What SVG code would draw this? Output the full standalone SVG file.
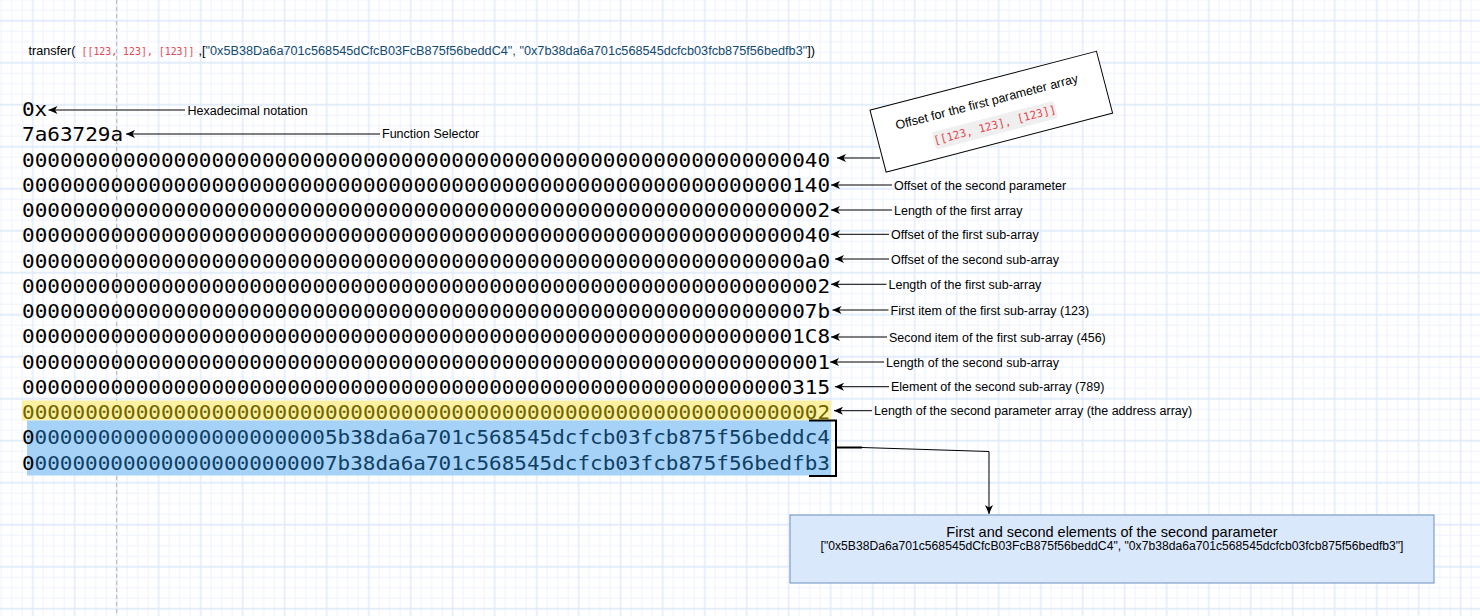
<svg xmlns="http://www.w3.org/2000/svg" width="1480" height="616" viewBox="0 0 1480 616">
<defs>
<pattern id="grid" x="31.7" y="19.7" width="42" height="42" patternUnits="userSpaceOnUse">
<path d="M11.5,0V42M22,0V42M32.5,0V42M0,11.5H42M0,22H42M0,32.5H42" stroke="#eef3fc" stroke-width="1" fill="none"/>
<path d="M1,0V42M0,1H42" stroke="#dce8fa" stroke-width="1.3" fill="none"/>
</pattern>
<marker id="arr" markerUnits="userSpaceOnUse" markerWidth="10" markerHeight="9" refX="9" refY="4.5" orient="auto">
<path d="M0,0.5 L9,4.5 L0,8.5 L2.5,4.5 Z" fill="#000"/>
</marker>
</defs>
<style>
.hex{font-family:"DejaVu Sans Mono","Liberation Mono",monospace;font-size:20px;fill:#000}
.lbl{font-family:"Liberation Sans",Arial,sans-serif;font-size:12.5px;fill:#000}
.code{font-family:"DejaVu Sans Mono","Liberation Mono",monospace;font-size:11px;fill:#e34850}
.navy{fill:#0f3f63}
.edge{stroke:#000;stroke-width:1;fill:none;marker-end:url(#arr)}
</style>
<rect width="1480" height="616" fill="#ffffff"/>
<rect width="1480" height="616" fill="url(#grid)"/>
<line x1="116.7" y1="0" x2="116.7" y2="616" stroke="#b5b5b5" stroke-width="1" stroke-dasharray="4 3"/>

<g id="title">
<text class="lbl" x="28.5" y="55" textLength="47" lengthAdjust="spacingAndGlyphs">transfer(</text>
<text class="code" x="81.5" y="55" style="font-size:9.9px">[[123, 123], [123]]</text>
<text class="lbl" x="198.5" y="55" textLength="616.5" lengthAdjust="spacingAndGlyphs">,[<tspan style="fill:#134a6e">"0x5B38Da6a701c568545dCfcB03FcB875f56beddC4", "0x7b38da6a701c568545dcfcb03fcb875f56bedfb3"</tspan>])</text>
</g>

<g id="highlights">
<rect x="22" y="400.5" width="809" height="20" fill="#fcf0a2"/>
<rect x="27" y="420.5" width="804" height="55" fill="#a6d2f8"/>
</g>

<g id="rows">
<text id="row0" class="hex" x="22" y="116" textLength="25.25" lengthAdjust="spacingAndGlyphs">0x</text>
<text id="row1" class="hex" x="22" y="141.25" textLength="101" lengthAdjust="spacingAndGlyphs">7a63729a</text>
<text id="row2" class="hex" x="22" y="166.5" textLength="808" lengthAdjust="spacingAndGlyphs">0000000000000000000000000000000000000000000000000000000000000040</text>
<text id="row3" class="hex" x="22" y="191.75" textLength="808" lengthAdjust="spacingAndGlyphs">0000000000000000000000000000000000000000000000000000000000000140</text>
<text id="row4" class="hex" x="22" y="217" textLength="808" lengthAdjust="spacingAndGlyphs">0000000000000000000000000000000000000000000000000000000000000002</text>
<text id="row5" class="hex" x="22" y="242.25" textLength="808" lengthAdjust="spacingAndGlyphs">0000000000000000000000000000000000000000000000000000000000000040</text>
<text id="row6" class="hex" x="22" y="267.5" textLength="808" lengthAdjust="spacingAndGlyphs">00000000000000000000000000000000000000000000000000000000000000a0</text>
<text id="row7" class="hex" x="22" y="292.75" textLength="808" lengthAdjust="spacingAndGlyphs">0000000000000000000000000000000000000000000000000000000000000002</text>
<text id="row8" class="hex" x="22" y="318" textLength="808" lengthAdjust="spacingAndGlyphs">000000000000000000000000000000000000000000000000000000000000007b</text>
<text id="row9" class="hex" x="22" y="343.25" textLength="808" lengthAdjust="spacingAndGlyphs">00000000000000000000000000000000000000000000000000000000000001C8</text>
<text id="row10" class="hex" x="22" y="368.5" textLength="808" lengthAdjust="spacingAndGlyphs">0000000000000000000000000000000000000000000000000000000000000001</text>
<text id="row11" class="hex" x="22" y="393.75" textLength="808" lengthAdjust="spacingAndGlyphs">0000000000000000000000000000000000000000000000000000000000000315</text>
<text id="row12" class="hex" x="22" y="419" textLength="808" lengthAdjust="spacingAndGlyphs" style="fill:#6e6500">0000000000000000000000000000000000000000000000000000000000000002</text>
<g id="row13">
<text class="hex" x="22" y="444.25" textLength="12.6" lengthAdjust="spacingAndGlyphs">0</text>
<text class="hex navy" x="34.6" y="444.25" textLength="795.4" lengthAdjust="spacingAndGlyphs">000000000000000000000005b38da6a701c568545dcfcb03fcb875f56beddc4</text>
</g>
<g id="row14">
<text class="hex" x="22" y="469.5" textLength="12.6" lengthAdjust="spacingAndGlyphs">0</text>
<text class="hex navy" x="34.6" y="469.5" textLength="795.4" lengthAdjust="spacingAndGlyphs">000000000000000000000007b38da6a701c568545dcfcb03fcb875f56bedfb3</text>
</g>
</g>

<g id="bracket" fill="none" stroke="#000">
<path d="M809,420.5 H836 V476 H809" stroke-width="2"/>
<path d="M836,447.5 H862" stroke-width="2"/>
</g>

<g id="offsetNote" transform="translate(991.3,111.7) rotate(-14.6)">
<rect x="-117" y="-32" width="234" height="64" fill="#ffffff" stroke="#000" stroke-width="1"/>
<text class="lbl" x="-2" y="-6.5" text-anchor="middle">Offset for the first parameter array</text>
<rect x="-63" y="5" width="126" height="18" rx="3" fill="#efefef"/>
<text class="code" x="0" y="17.5" text-anchor="middle">[[123, 123], [123]]</text>
</g>

<g id="labels">
<text class="lbl" x="187.5" y="114.5">Hexadecimal notation</text>
<text class="lbl" x="382" y="137.5">Function Selector</text>
<text class="lbl" x="894" y="189.5">Offset of the second parameter</text>
<text class="lbl" x="894" y="214.5">Length of the first array</text>
<text class="lbl" x="891" y="238.8">Offset of the first sub-array</text>
<text class="lbl" x="891" y="263.5">Offset of the second sub-array</text>
<text class="lbl" x="888.5" y="288.8">Length of the first sub-array</text>
<text class="lbl" x="890.5" y="314.5">First item of the first sub-array (123)</text>
<text class="lbl" x="889" y="341.5">Second item of the first sub-array (456)</text>
<text class="lbl" x="886" y="366.5">Length of the second sub-array</text>
<text class="lbl" x="891" y="391">Element of the second sub-array (789)</text>
<text class="lbl" x="874" y="415">Length of the second parameter array (the address array)</text>
</g>

<g id="resultBox">
<rect x="790" y="515" width="644" height="68" fill="#dae8fc" stroke="#6c8ebf" stroke-width="1"/>
<text class="lbl" x="1112" y="537" text-anchor="middle" style="font-size:14.5px">First and second elements of the second parameter</text>
<text class="lbl" x="820.5" y="549.5" textLength="583" lengthAdjust="spacingAndGlyphs" style="font-size:12px">["0x5B38Da6a701c568545dCfcB03FcB875f56beddC4", "0x7b38da6a701c568545dcfcb03fcb875f56bedfb3"]</text>
</g>

<g id="connectors">
<path class="edge" d="M185,110 H48.5"/>
<path class="edge" d="M380,134 H126"/>
<path class="edge" d="M880,158 H837"/>
<path class="edge" d="M892,185 H831"/>
<path class="edge" d="M892,210 H831"/>
<path class="edge" d="M889,234.3 H831"/>
<path class="edge" d="M889,259 H835"/>
<path class="edge" d="M886.5,284.3 H831"/>
<path class="edge" d="M888.5,310 H832.5"/>
<path class="edge" d="M887,337 H831"/>
<path class="edge" d="M884,362 H830"/>
<path class="edge" d="M889,386.7 H835"/>
<path class="edge" d="M872,410.7 H834"/>
<path class="edge" d="M862,447.5 L989,451.5 V514"/>
</g>
</svg>
